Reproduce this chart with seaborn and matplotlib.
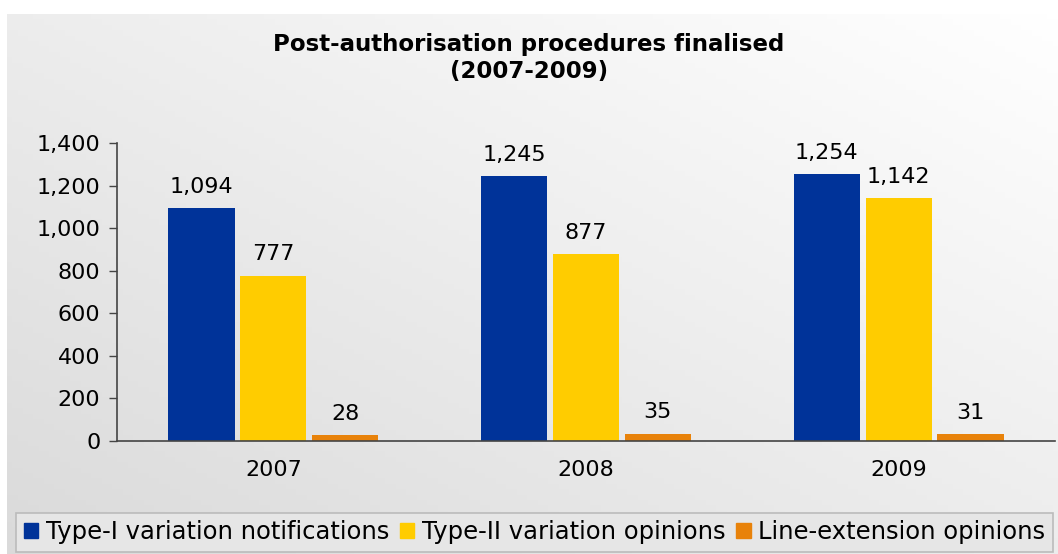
import numpy as np
import matplotlib.pyplot as plt
import seaborn as sns
import pandas as pd

years = ['2007', '2008', '2009']
type1 = [1094, 1245, 1254]
type2 = [777, 877, 1142]
line_ext = [28, 35, 31]
series_names = ['Type-I variation notifications', 'Type-II variation opinions', 'Line-extension opinions']
colors = ['#003399', '#FFCC00', '#E8820A']

df = pd.DataFrame({
    'year': years * 3,
    'value': type1 + type2 + line_ext,
    'series': [series_names[0]] * 3 + [series_names[1]] * 3 + [series_names[2]] * 3,
})

sns.set_style('white')
plt.rcParams['font.family'] = ['DejaVu Sans']
plt.rcParams['text.color'] = 'black'
plt.rcParams['xtick.color'] = 'black'
plt.rcParams['ytick.color'] = 'black'

fig = plt.figure(figsize=(10.58, 5.54), dpi=100)
fig.patch.set_facecolor('white')

# gradient background panel: grey bottom-left -> white top-right
bg = fig.add_axes([7 / 1058, 0, 1 - 7 / 1058, 1 - 14 / 554], zorder=-10)
gx, gy = np.meshgrid(np.linspace(0, 1, 200), np.linspace(0, 1, 100))
grad = np.clip(0.5 * (1 - gx) + 0.5 * gy, 0, 1)
bg.imshow(grad, cmap=sns.blend_palette(['#ffffff', '#dadada'], as_cmap=True),
          aspect='auto', extent=[0, 1, 0, 1], vmin=0, vmax=1)
bg.axis('off')

ax = fig.add_axes([117 / 1058, 113 / 554, (1055 - 117) / 1058, (441 - 143) / 554])
ax.patch.set_alpha(0)
sns.barplot(data=df, x='year', y='value', hue='series', palette=colors,
            width=0.69, gap=0.08, saturation=1, ax=ax, legend=False,
            linewidth=0, edgecolor='none')

for cont in ax.containers:
    ax.bar_label(cont, labels=[f'{v:,.0f}' for v in cont.datavalues],
                 padding=8, fontsize=16, color='black')

ax.set_ylim(0, 1400)
ax.set_xlim(-0.5, 2.5)
ax.set_yticks(range(0, 1401, 200))
ax.set_yticklabels([f'{v:,}' for v in range(0, 1401, 200)], fontsize=16)
ax.set_xticks(range(3))
ax.set_xticklabels(years, fontsize=16)
ax.set_xticks([-0.5, 0.5, 1.5, 2.5], minor=True)
ax.tick_params(axis='x', which='major', length=0, pad=14)
ax.tick_params(axis='x', which='minor', length=6, width=1, color='#444444', direction='out')
ax.tick_params(axis='y', length=6, width=1, color='#444444', direction='out', left=True, pad=6)
ax.set_xlabel('')
ax.set_ylabel('')
sns.despine(ax=ax)
for s in ['left', 'bottom']:
    ax.spines[s].set_color('#444444')
    ax.spines[s].set_linewidth(1.2)

fig.text(0.5, 1 - 58 / 554, 'Post-authorisation procedures finalised\n(2007-2009)',
         ha='center', va='center', fontsize=16.5, fontweight='bold', linespacing=1.2)

handles = [plt.Rectangle((0, 0), 1, 1, color=c) for c in colors]
leg = fig.legend(handles, series_names, loc='lower left', bbox_to_anchor=(14 / 1058, 0),
                 ncol=3, fontsize=17.5, frameon=True, fancybox=False, handlelength=0.6,
                 handleheight=0.6, handletextpad=0.3, columnspacing=0.45, borderpad=0.3,
                 borderaxespad=0.1)
leg.get_frame().set_edgecolor('#bbbbbb')
leg.get_frame().set_linewidth(1.2)
leg.get_frame().set_facecolor('#e6e6e6')
leg.get_frame().set_alpha(1)

fig.savefig('out.png', dpi=100)
